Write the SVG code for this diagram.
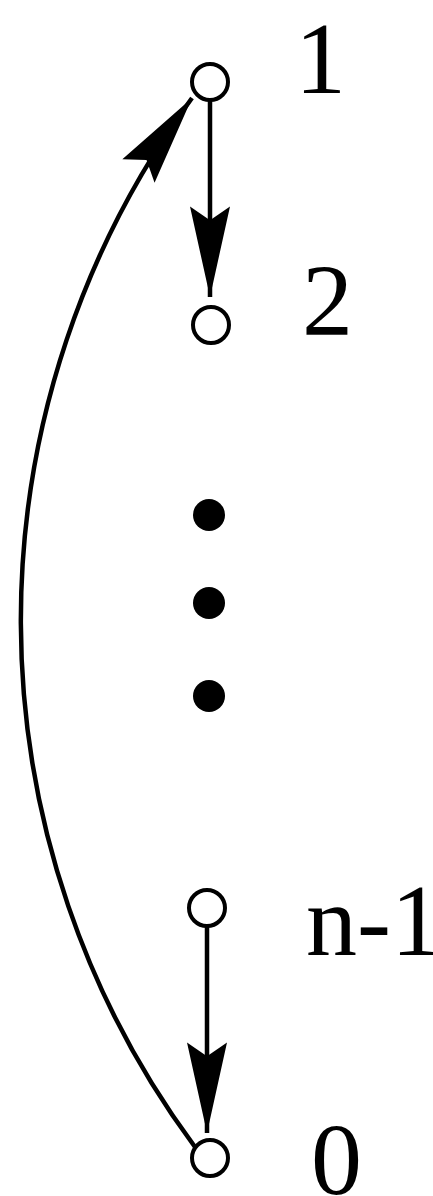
<svg xmlns="http://www.w3.org/2000/svg" width="433" height="1196" viewBox="0 0 433 1196">
<style>
.node{fill:#fff;stroke:#000;stroke-width:4}
.dot{fill:#000}
.edge{fill:none;stroke:#000;stroke-width:4.5}
.lbl{font-family:"Liberation Serif","Times New Roman",serif;font-size:102px;fill:#000}
</style>
<defs>
<marker id="ah" markerUnits="userSpaceOnUse" orient="auto" markerWidth="100" markerHeight="50" viewBox="-90 -22 95 44" refX="0" refY="0">
<path d="M0,0 L-86,-19 L-73,0 L-86,19 Z" fill="#000"/>
</marker>
</defs>
<rect width="433" height="1196" fill="#fff"/>
<g id="connectors">
<path class="edge" d="M210,101 L210,297" marker-end="url(#ah)"/>
<path class="edge" d="M207,927 L207,1133" marker-end="url(#ah)"/>
<path class="edge" d="M195,1147 A883,883 0 0 1 192,98" marker-end="url(#ah)"/>
</g>
<g id="n1"><circle class="node" cx="210" cy="82" r="18"/><text class="lbl" x="295" y="93">1</text></g>
<g id="n2"><circle class="node" cx="211" cy="325" r="18"/><text class="lbl" x="302" y="335">2</text></g>
<g id="ellipsis">
<circle class="dot" cx="209" cy="515" r="16"/>
<circle class="dot" cx="209" cy="603" r="16"/>
<circle class="dot" cx="209" cy="696" r="16"/>
</g>
<g id="nn1"><circle class="node" cx="207" cy="908" r="18"/><text class="lbl" x="306" y="955">n-1</text></g>
<g id="n0"><circle class="node" cx="210" cy="1158" r="18"/><text class="lbl" x="311" y="1194">0</text></g>
</svg>
